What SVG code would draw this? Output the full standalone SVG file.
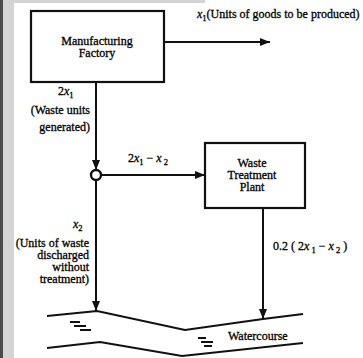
<svg xmlns="http://www.w3.org/2000/svg" width="363" height="358" viewBox="0 0 363 358">
<defs>
<style>
text{font-family:"Liberation Serif","Times New Roman",serif;font-size:12px;fill:#000;stroke:#000;stroke-width:0.3}
.c{text-anchor:middle}
.e{text-anchor:end}
.box{fill:#fff;stroke:#111;stroke-width:2.2}
.ln{fill:none;stroke:#111;stroke-width:2}
.riv{fill:none;stroke:#111;stroke-width:2}
.i{font-style:italic}
.s{font-size:8.5px}
</style>
<marker id="ah" viewBox="0 0 10 8" refX="10" refY="4" markerWidth="10" markerHeight="8" markerUnits="userSpaceOnUse" orient="auto">
<path d="M0,0 L10,4 L0,8 Z" fill="#111"/>
</marker>
</defs>
<rect x="0" y="0" width="363" height="358" fill="#fff"/>
<rect x="0" y="0" width="14" height="358" fill="#d4d4d4"/>
<rect x="0" y="0" width="3" height="358" fill="#4a4a4a"/>
<rect x="14" y="0" width="191" height="3" fill="#d4d4d4"/>

<g id="connectors">
<line class="ln" x1="164" y1="42" x2="270" y2="42" marker-end="url(#ah)"/>
<line class="ln" x1="96" y1="82" x2="96" y2="170" marker-end="url(#ah)"/>
<line class="ln" x1="100" y1="175" x2="205" y2="175" marker-end="url(#ah)"/>
<line class="ln" x1="96" y1="180" x2="96" y2="311" marker-end="url(#ah)"/>
<line class="ln" x1="263" y1="208" x2="263" y2="319" marker-end="url(#ah)"/>
</g>

<g id="factory">
<rect class="box" x="31" y="11" width="133" height="71"/>
<text class="c" x="97" y="45">Manufacturing</text>
<text class="c" x="97" y="57">Factory</text>
</g>

<g id="junction">
<circle cx="96" cy="175" r="5" fill="#fff" stroke="#111" stroke-width="2.4"/>
</g>

<g id="treatment">
<rect class="box" x="205" y="143" width="100" height="65"/>
<text class="c" x="252" y="167">Waste</text>
<text class="c" x="252" y="179">Treatment</text>
<text class="c" x="252" y="191">Plant</text>
</g>

<g id="watercourse">
<path class="riv" d="M47,316 L97,311 L185,330 L263,319 L303,314"/>
<path class="riv" d="M47,348 L100,342 L182,356 L303,343"/>
<path class="riv" stroke-width="1.8" d="M70,322 L80,322 M74,326 L86,326 M80,330 L91,330"/>
<path class="riv" stroke-width="1.8" d="M198,338 L206,338 M201,342 L213,342 M204,346 L212,346"/>
<text x="228" y="340">Watercourse</text>
</g>

<g id="labels">
<text x="197" y="18"><tspan class="i">x</tspan><tspan class="s" dy="3">1</tspan><tspan dy="-3">(Units of goods to be produced)</tspan></text>
<text x="58" y="95">2<tspan class="i">x</tspan><tspan class="s" dy="3">1</tspan></text>
<text class="e" x="90" y="114">(Waste units</text>
<text class="e" x="90" y="131">generated)</text>
<text x="128" y="162">2<tspan class="i">x</tspan><tspan class="s" dy="3">1</tspan><tspan dy="-3"> − </tspan><tspan class="i">x</tspan><tspan class="s" dy="3"> 2</tspan></text>
<text x="73" y="228"><tspan class="i">x</tspan><tspan class="s" dy="3">2</tspan></text>
<text class="e" x="89" y="247">(Units of waste</text>
<text class="e" x="89" y="259">discharged</text>
<text class="e" x="89" y="271">without</text>
<text class="e" x="89" y="283">treatment)</text>
<text x="273" y="250">0.2 ( 2<tspan class="i">x</tspan><tspan class="s" dy="3"> 1</tspan><tspan dy="-3"> − </tspan><tspan class="i">x</tspan><tspan class="s" dy="3"> 2</tspan><tspan dy="-3"> )</tspan></text>
</g>
</svg>
